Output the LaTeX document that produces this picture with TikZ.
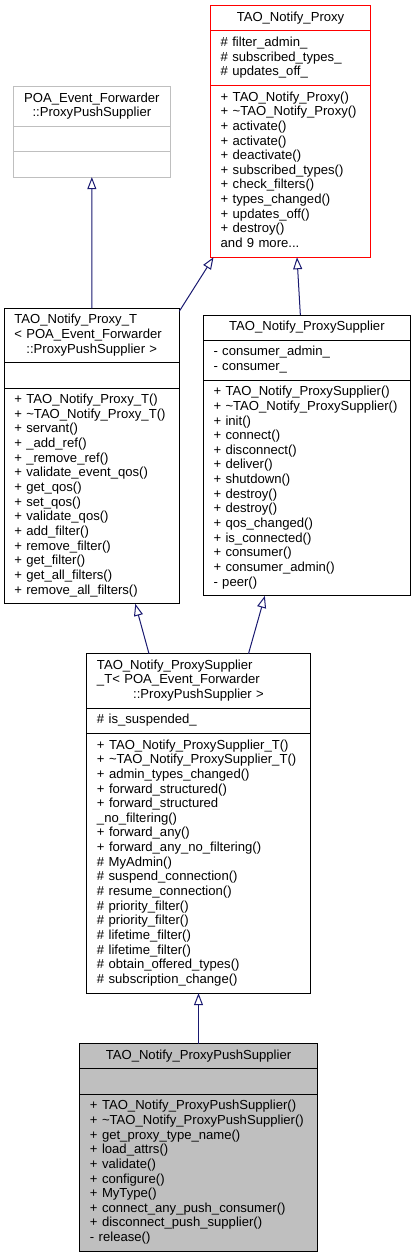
\documentclass[tikz,border=0pt]{standalone}
\usepackage{fontspec}
\setmainfont{Liberation Sans}
\usetikzlibrary{positioning, arrows.meta, shapes.multipart}
\definecolor{edgeblue}{HTML}{191970}
\definecolor{boxgrey}{HTML}{BFBFBF}

\begin{document}
\begin{tikzpicture}[x=1bp, y=-1bp,
  font=\fontsize{13.1bp}{14.65bp}\selectfont,
  part/.style={draw, line width=1bp, inner xsep=5bp, inner ysep=5.3bp, outer sep=0pt, anchor=north},
  head/.style={part, align=center, execute at begin node=\strut, execute at end node=\strut},
  body/.style={part, align=left, execute at begin node={\leftskip=5bp\strut}, execute at end node=\strut},
  inherit/.style={draw=edgeblue, line width=1bp, -{Triangle[open, length=12bp, width=9bp]}}]
\useasboundingbox (0, 0) rectangle (415, 1259);
\node [head, draw=red, text width=149.6bp] (proxy) at (290.5, 5.7) {TAO\_Notify\_Proxy};
\node [body, draw=red, text width=149.6bp, below=0pt of proxy] (proxyattr) {\# filter\_admin\_\\\# subscribed\_types\_\\\# updates\_off\_};
\node [body, draw=red, text width=149.6bp, below=0pt of proxyattr] (proxyops) {+ TAO\_Notify\_Proxy()\\+ \textasciitilde TAO\_Notify\_Proxy()\\+ activate()\\+ activate()\\+ deactivate()\\+ subscribed\_types()\\+ check\_filters()\\+ types\_changed()\\+ updates\_off()\\+ destroy()\\and 9 more...};
\node [head, draw=boxgrey, text width=146.3bp] (fwd) at (91.85, 86.7) {POA\_Event\_Forwarder\\::ProxyPushSupplier};
\node [body, draw=boxgrey, text width=146.3bp, below=0pt of fwd] (fwdattr) {};
\node [body, draw=boxgrey, text width=146.3bp, below=0pt of fwdattr] (fwdops) {};
\node [body, text width=165bp] (proxyT) at (91.8, 308.3) {TAO\_Notify\_Proxy\_T\\< POA\_Event\_Forwarder\\\makebox[\dimexpr\linewidth-10bp\relax]{::ProxyPushSupplier >}};
\node [body, text width=165bp, below=0pt of proxyT] (proxyTattr) {};
\node [body, text width=165bp, below=0pt of proxyTattr] (proxyTops) {+ TAO\_Notify\_Proxy\_T()\\+ \textasciitilde TAO\_Notify\_Proxy\_T()\\+ servant()\\+ \_add\_ref()\\+ \_remove\_ref()\\+ validate\_event\_qos()\\+ get\_qos()\\+ set\_qos()\\+ validate\_qos()\\+ add\_filter()\\+ remove\_filter()\\+ get\_filter()\\+ get\_all\_filters()\\+ remove\_all\_filters()};
\node [head, text width=196.7bp] (supp) at (306.85, 315) {TAO\_Notify\_ProxySupplier};
\node [body, text width=196.7bp, below=0pt of supp] (suppattr) {- consumer\_admin\_\\- consumer\_};
\node [body, text width=196.7bp, below=0pt of suppattr] (suppops) {+ TAO\_Notify\_ProxySupplier()\\+ \textasciitilde TAO\_Notify\_ProxySupplier()\\+ init()\\+ connect()\\+ disconnect()\\+ deliver()\\+ shutdown()\\+ destroy()\\+ destroy()\\+ qos\_changed()\\+ is\_connected()\\+ consumer()\\+ consumer\_admin()\\- peer()};
\node [body, text width=213bp] (suppT) at (198.5, 653.7) {TAO\_Notify\_ProxySupplier\\\_T< POA\_Event\_Forwarder\\\makebox[\dimexpr\linewidth-10bp\relax]{::ProxyPushSupplier >}};
\node [body, text width=213bp, below=0pt of suppT] (suppTattr) {\# is\_suspended\_};
\node [body, text width=213bp, below=0pt of suppTattr] (suppTops) {+ TAO\_Notify\_ProxySupplier\_T()\\+ \textasciitilde TAO\_Notify\_ProxySupplier\_T()\\+ admin\_types\_changed()\\+ forward\_structured()\\+ forward\_structured\\\_no\_filtering()\\+ forward\_any()\\+ forward\_any\_no\_filtering()\\\# MyAdmin()\\\# suspend\_connection()\\\# resume\_connection()\\\# priority\_filter()\\\# priority\_filter()\\\# lifetime\_filter()\\\# lifetime\_filter()\\\# obtain\_offered\_types()\\\# subscription\_change()};
\node [head, fill=boxgrey, text width=227bp] (push) at (198.5, 1043.7) {TAO\_Notify\_ProxyPushSupplier};
\node [body, fill=boxgrey, text width=227bp, below=0pt of push] (pushattr) {};
\node [body, fill=boxgrey, text width=227bp, below=0pt of pushattr] (pushops) {+ TAO\_Notify\_ProxyPushSupplier()\\+ \textasciitilde TAO\_Notify\_ProxyPushSupplier()\\+ get\_proxy\_type\_name()\\+ load\_attrs()\\+ validate()\\+ configure()\\+ MyType()\\+ connect\_any\_push\_consumer()\\+ disconnect\_push\_supplier()\\- release()};
\draw [inherit] (proxyT.north) -- (fwdops.south);
\draw [inherit] ([yshift=-3bp]proxyT.north east) -- ([xshift=-77bp]proxyops.south);
\draw [inherit] ([xshift=-6.5bp]supp.north) -- ([xshift=6.5bp]proxyops.south);
\draw [inherit] ([xshift=-49.5bp]suppT.north) -- ([xshift=43.5bp]proxyTops.south);
\draw [inherit] ([xshift=50bp]suppT.north) -- ([xshift=-42bp]suppops.south);
\draw [inherit] (push.north) -- (suppTops.south);
\end{tikzpicture}
\end{document}
